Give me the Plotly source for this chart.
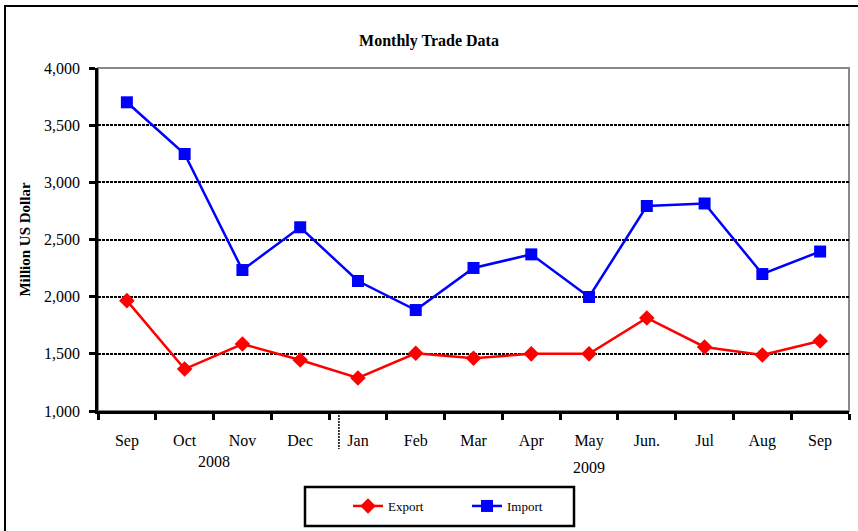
import plotly.graph_objects as go

months = ["Sep", "Oct", "Nov", "Dec", "Jan", "Feb", "Mar", "Apr", "May", "Jun.", "Jul", "Aug", "Sep"]
export_vals = [1965, 1367, 1586, 1446, 1289, 1505, 1462, 1500, 1500, 1814, 1560, 1490, 1612]
import_vals = [3700, 3248, 2233, 2607, 2137, 1883, 2251, 2370, 1997, 2793, 2815, 2198, 2395]
year_labels = ["2008", "2009"]
year_pos = [1.5, 8]

xs = list(range(len(months)))
FONT = "Liberation Serif"

fig = go.Figure()
fig.add_trace(go.Scatter(
    x=xs, y=export_vals, name="Export", mode="lines+markers",
    line=dict(color="#ff0000", width=2.5),
    marker=dict(symbol="diamond", size=12, color="#ff0000"),
))
fig.add_trace(go.Scatter(
    x=xs, y=import_vals, name="Import", mode="lines+markers",
    line=dict(color="#0000ff", width=2.5),
    marker=dict(symbol="square", size=12, color="#0000ff"),
))

W, H = 858, 531
L, R, T, B = 98, 9, 68, 120
pw, ph = W - L - R, H - T - B

def px2paper_x(px):
    return (px - L) / pw

def py2paper_y(py):
    return (H - B - py) / ph

shapes = [
    dict(type="rect", xref="paper", yref="paper",
         x0=px2paper_x(5), x1=px2paper_x(870), y0=py2paper_y(545), y1=py2paper_y(6),
         line=dict(color="black", width=2), fillcolor="rgba(0,0,0,0)", layer="below"),
    dict(type="rect", xref="paper", yref="paper", x0=0, x1=1, y0=0, y1=1,
         line=dict(color="#888888", width=2), layer="below"),
    dict(type="line", xref="x", yref="paper", x0=3.67, x1=3.67,
         y0=py2paper_y(415), y1=py2paper_y(449),
         line=dict(color="black", width=1.5, dash="2px,1px")),
    dict(type="rect", xref="paper", yref="paper",
         x0=px2paper_x(305), x1=px2paper_x(574), y0=py2paper_y(526), y1=py2paper_y(487),
         line=dict(color="black", width=2.5), fillcolor="white"),
]

annotations = [
    dict(text=t, x=xp, xref="x", y=py2paper_y(yp), yref="paper", showarrow=False,
         xanchor="center", yanchor="middle",
         font=dict(family=FONT, size=16, color="black"))
    for t, xp, yp in zip(year_labels, year_pos, [462, 467])
]

fig.update_layout(
    width=W, height=H,
    margin=dict(l=L, r=R, t=T, b=B),
    paper_bgcolor="white", plot_bgcolor="white",
    font=dict(family=FONT, color="black"),
    title=dict(text="<b>Monthly Trade Data</b>", x=0.5, xref="container", xanchor="center",
               y=1 - 40 / H, yref="container", yanchor="middle",
               font=dict(family=FONT, size=16, color="black")),
    showlegend=True,
    legend=dict(orientation="h", x=px2paper_x(348), xanchor="left",
                y=py2paper_y(506), yanchor="middle",
                bgcolor="rgba(0,0,0,0)", borderwidth=0,
                font=dict(family=FONT, size=13, color="black"),
                entrywidth=74, entrywidthmode="pixels"),
    shapes=shapes,
    annotations=annotations,
)

fig.update_xaxes(
    range=[-0.5, 12.5], tickmode="array", tickvals=xs, ticktext=months,
    ticks="", showgrid=False, zeroline=False,
    showline=True, linecolor="black", linewidth=2.5,
    tickfont=dict(family=FONT, size=16, color="black"),
    ticklabelstandoff=13,
    minor=dict(tickmode="array", tickvals=[i - 0.5 for i in range(14)],
               ticks="outside", ticklen=6, tickwidth=2.5, tickcolor="black", showgrid=False),
)
fig.update_yaxes(
    range=[1000, 4000], dtick=500, tickformat=",",
    ticks="outside", ticklen=6, tickwidth=2.5, tickcolor="black",
    showline=True, linecolor="black", linewidth=2.5,
    showgrid=True, gridcolor="black", gridwidth=2, griddash="3px,1px",
    zeroline=False,
    tickfont=dict(family=FONT, size=16, color="black"),
    ticklabelstandoff=6,
    title=dict(text="<b>Million US Dollar</b>", font=dict(family=FONT, size=15, color="black"),
               standoff=10),
)

fig.write_html("out.html", config={"displayModeBar": False},
               post_script="document.body.style.margin='0';")
